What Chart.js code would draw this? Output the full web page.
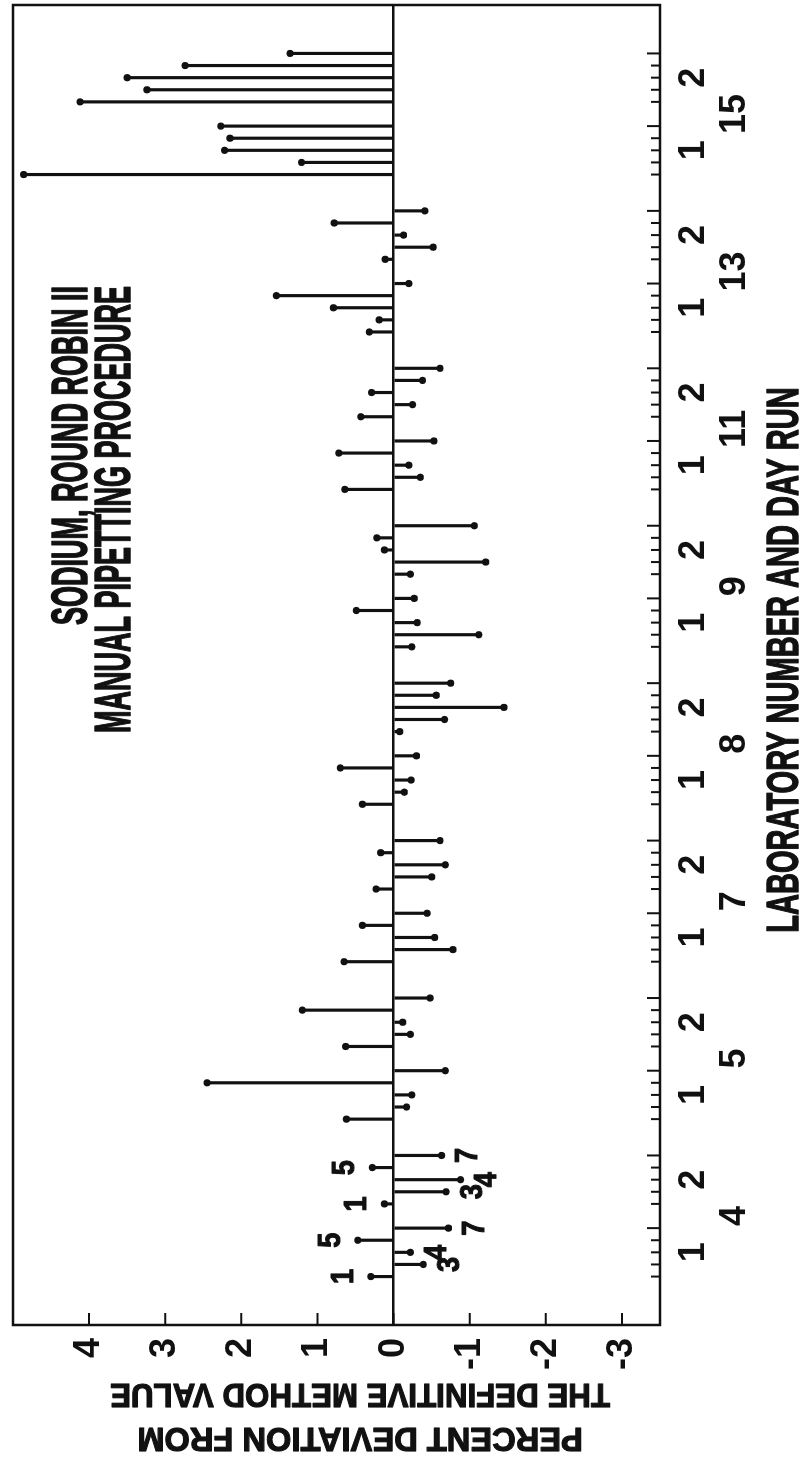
<!DOCTYPE html>
<html>
<head>
<meta charset="utf-8">
<script src="https://cdn.jsdelivr.net/npm/chart.js@4.4.1/dist/chart.umd.min.js"></script>
<style>
  html, body { margin: 0; padding: 0; background: #fff; }
  body { width: 804px; height: 1462px; overflow: hidden; position: relative; }
  /* the figure is printed turned a quarter turn, so the chart is drawn upright and rotated */
  #wrap { position: absolute; left: 0; top: 0; width: 1462px; height: 804px;
          transform-origin: 0 0; transform: translate(0, 1462px) rotate(-90deg); }
</style>
</head>
<body>
<div id="wrap"><canvas id="chart" width="1462" height="804"></canvas></div>
<script>
const labs = ['4', '5', '7', '8', '9', '11', '13', '15']
const dayNames = ['1', '2']

// percent deviation from the definitive method value, 5 runs per day: [day 1, day 2]
const lab4 = [[0.30, -0.39, -0.22, 0.47, -0.72], [0.12, -0.69, -0.88, 0.28, -0.63]]
const lab5 = [[0.62, -0.17, -0.24, 2.45, -0.68], [0.63, -0.22, -0.12, 1.20, -0.48]]
const lab7 = [[0.65, -0.78, -0.54, 0.41, -0.44], [0.23, -0.50, -0.68, 0.17, -0.61]]
const lab8 = [[0.41, -0.14, -0.23, 0.70, -0.30], [-0.08, -0.67, -1.45, -0.56, -0.75]]
const lab9 = [[-0.24, -1.12, -0.31, 0.49, -0.27], [-0.22, -1.21, 0.12, 0.22, -1.06]]
const lab11 = [[0.64, -0.35, -0.20, 0.72, -0.53], [0.43, -0.25, 0.29, -0.38, -0.61]]
const lab13 = [[0.32, 0.19, 0.79, 1.54, -0.20], [0.11, -0.52, -0.13, 0.78, -0.41]]
const lab15 = [[4.86, 1.21, 2.22, 2.15, 2.27], [4.12, 3.24, 3.50, 2.74, 1.36]]
const deviations = [lab4, lab5, lab7, lab8, lab9, lab11, lab13, lab15]

// small numbers written beside the lab 4 points
const lab4Notes = ['1', '3', '4', '5', '7']

const yTickValues = [4, 3, 2, 1, 0, -1, -2, -3]
const titleLines = ['SODIUM, ROUND ROBIN II', 'MANUAL PIPETTING PROCEDURE']
const xTitle = 'LABORATORY NUMBER AND DAY RUN'
const yTitle = ['PERCENT DEVIATION FROM', 'THE DEFINITIVE METHOD VALUE']

const WIDE = "'Liberation Sans', Arial, sans-serif"
const INK = '#111'

// category slots: runs, a blank slot between days (carries the lab number), two between labs
const slotLabels = []
const slotValues = []
const slotLong = []
const slotNote = []
function addBlank(label) {
  slotLabels.push(label); slotValues.push(null); slotLong.push(false); slotNote.push(null)
}
for (let i = 0; i < 4; i++) addBlank('')
labs.forEach((lab, li) => {
  if (li > 0) { addBlank(''); addBlank('') }
  deviations[li].forEach((runs, di) => {
    if (di > 0) addBlank(['', lab])
    runs.forEach((v, ri) => {
      slotLabels.push(ri === 2 ? dayNames[di] : '')
      slotValues.push(v)
      slotLong.push(ri === runs.length - 1)
      slotNote.push(li === 0 ? lab4Notes[ri] : null)
    })
  })
})
for (let i = 0; i < 4; i++) addBlank('')

// condensed heavy lettering, like the typeset labels of the original
function squeezed(ctx, text, x, y, size, sx, align, rot, heavy) {
  ctx.save()
  ctx.translate(x, y)
  if (rot) ctx.rotate(rot)
  ctx.scale(sx, 1)
  ctx.font = `bold ${size}px ${WIDE}`
  ctx.textAlign = align
  ctx.textBaseline = 'middle'
  ctx.fillText(text, 0, 0)
  if (heavy) {
    ctx.lineWidth = heavy
    ctx.lineJoin = 'round'
    ctx.strokeText(text, 0, 0)
  }
  ctx.restore()
}

const marks = {
  id: 'marks',
  afterDraw(chart) {
    const { ctx, chartArea: a, scales: { x, y } } = chart
    ctx.save()
    ctx.strokeStyle = INK
    ctx.fillStyle = INK
    ctx.lineWidth = 2.5
    ctx.strokeRect(a.left, a.top, a.right - a.left, a.bottom - a.top)

    // inward tick marks
    ctx.lineWidth = 2
    ctx.beginPath()
    yTickValues.forEach(v => {
      const py = y.getPixelForValue(v)
      ctx.moveTo(a.left, py); ctx.lineTo(a.left + 12, py)
    })
    slotValues.forEach((v, i) => {
      if (v === null) return
      const px = x.getPixelForValue(i)
      ctx.moveTo(px, a.bottom); ctx.lineTo(px, a.bottom - (slotLong[i] ? 13 : 9))
    })
    ctx.stroke()

    // run notes for lab 4
    slotNote.forEach((n, i) => {
      if (!n) return
      const v = slotValues[i]
      const px = x.getPixelForValue(i)
      const py = y.getPixelForValue(v) + (v > 0 ? -27 : 27)
      squeezed(ctx, n, px, py, 32, 0.85, 'center', 0, 1.2)
    })

    // title inside the frame
    squeezed(ctx, titleLines[0], 1176, 73, 50, 0.54, 'right', 0, 1.6)
    squeezed(ctx, titleLines[1], 1176, 116, 50, 0.54, 'right', 0, 1.6)

    // axis titles
    squeezed(ctx, xTitle, 802, 786, 44, 0.66, 'center', 0, 1.4)
    squeezed(ctx, yTitle[0], 25, 360, 34, 0.96, 'center', -Math.PI / 2, 1.2)
    squeezed(ctx, yTitle[1], 69, 360, 34, 0.92, 'center', -Math.PI / 2, 1.2)
    ctx.restore()
  }
}

new Chart(document.getElementById('chart'), {
  type: 'bar',
  data: {
    labels: slotLabels,
    datasets: [
      { type: 'bar', data: slotValues, backgroundColor: INK, barThickness: 2.5, borderWidth: 0 },
      { type: 'line', data: slotValues, showLine: false, pointRadius: 3.6, pointBackgroundColor: INK, pointBorderWidth: 0 }
    ]
  },
  options: {
    responsive: false,
    animation: false,
    devicePixelRatio: 1,
    layout: { padding: { top: 13, right: 5, left: 0, bottom: 0 } },
    plugins: { legend: { display: false }, tooltip: { enabled: false } },
    scales: {
      x: {
        type: 'category',
        offset: false,
        grid: { display: false },
        border: { display: false },
        ticks: { autoSkip: false, maxRotation: 0, minRotation: 0, padding: 5, color: INK,
                 font: { family: WIDE, size: 36, weight: 'bold', lineHeight: 1.15 } },
        afterFit: s => { s.height = 144; s.paddingLeft = 0; s.paddingRight = 0 }
      },
      y: {
        min: -3.5,
        max: 5,
        afterBuildTicks: s => { s.ticks = yTickValues.map(v => ({ value: v })) },
        grid: { drawTicks: false, lineWidth: 2.5, color: c => (c.tick && c.tick.value === 0 ? INK : 'rgba(0,0,0,0)') },
        border: { display: false },
        ticks: { padding: 13, color: INK, font: { family: WIDE, size: 36, weight: 'bold' } },
        afterFit: s => { s.width = 137; s.paddingTop = 0; s.paddingBottom = 0 }
      }
    }
  },
  plugins: [marks]
})
</script>
</body>
</html>
